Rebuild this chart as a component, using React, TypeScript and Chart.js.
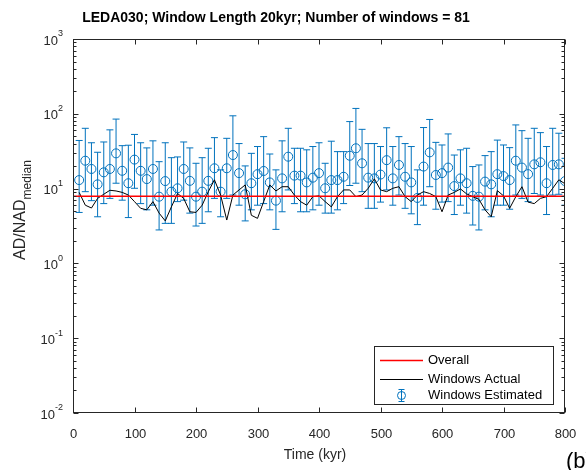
import { useEffect, useRef } from "react";
import { Chart, registerables } from "chart.js";

Chart.register(...registerables);

const TITLE = "LEDA030; Window Length 20kyr; Number of windows = 81";
const X_LABEL = "Time (kyr)";
const Y_LABEL_MAIN = "AD/NAD";
const Y_LABEL_SUB = "median";
const LEGEND_LABELS = ["Overall", "Windows Actual", "Windows Estimated"];
const PANEL_TAG = "(b)";

// Window centres (kyr)
const timeKyr = [
  10, 20, 30, 40, 50, 60, 70, 80, 90, 100,
  110, 120, 130, 140, 150, 160, 170, 180, 190, 200,
  210, 220, 230, 240, 250, 260, 270, 280, 290, 300,
  310, 320, 330, 340, 350, 360, 370, 380, 390, 400,
  410, 420, 430, 440, 450, 460, 470, 480, 490, 500,
  510, 520, 530, 540, 550, 560, 570, 580, 590, 600,
  610, 620, 630, 640, 650, 660, 670, 680, 690, 700,
  710, 720, 730, 740, 750, 760, 770, 780, 790, 800,
  810,
];

// Estimated AD/NAD per window with its error range
const estimated = [
  13.0, 23.6, 18.3, 11.4, 16.5, 18.3, 29.6, 17.3, 11.8, 24.4,
  17.3, 13.4, 18.3, 7.8, 12.6, 9.1, 10.1, 18.3, 12.7, 7.8,
  9.1, 12.7, 18.7, 9.1, 18.7, 28.1, 16.1, 8.4, 11.8, 15.6,
  17.2, 12.1, 6.9, 13.7, 26.7, 14.9, 14.9, 12.1, 14.0, 16.1,
  10.1, 13.0, 13.0, 14.4, 27.5, 34.6, 21.8, 14.0, 13.7, 15.4,
  24.0, 13.7, 20.7, 14.4, 12.1, 7.5, 19.7, 30.5, 15.2, 16.1,
  19.1, 10.8, 13.7, 11.8, 8.0, 7.8, 12.4, 11.4, 15.6, 14.7,
  13.0, 23.6, 19.1, 15.6, 21.1, 22.5, 11.8, 20.7, 21.1, 12.6,
  14.0,
];
const estimatedUpper = [
  44, 64, 41, 30.6, 42, 61, 85, 37.5, 38, 53,
  41, 35, 43.5, 22.9, 41, 25.9, 26.5, 42, 35, 21.8,
  25.9, 34.6, 48, 17.8, 47, 94, 40, 20.1, 29.6, 36.5,
  49.5, 29, 17.8, 43.5, 64, 34.6, 34.6, 33, 36.5, 41,
  21.8, 43, 31.2, 31.2, 78.7, 118, 62, 40, 40, 36.5,
  65, 36.5, 49.5, 40, 36.5, 17.8, 65.5, 84, 41.5, 38.3,
  53.8, 28.1, 33, 34.6, 19.7, 20.7, 27.6, 31.2, 44.5, 38.3,
  35.3, 71, 59.5, 47, 64, 56, 36.5, 64, 55, 25.4,
  40,
];
const estimatedLower = [
  4.8, 9.1, 6.9, 4.2, 6.3, 7.4, 11.8, 7.0, 4.1, 10.1,
  6.3, 5.2, 6.0, 2.8, 3.43, 3.43, 6.7, 7.0, 4.7, 3.16,
  3.43, 4.9, 7.4, 4.2, 7.4, 8.2, 6.0, 3.7, 5.2, 6.0,
  6.3, 5.2, 2.85, 4.9, 9.6, 6.3, 4.9, 4.9, 5.2, 6.0,
  4.7, 4.7, 5.2, 6.3, 11.0, 11.8, 9.1, 5.45, 5.45, 6.6,
  9.6, 6.0, 8.2, 5.45, 4.6, 3.3, 6.0, 10.6, 5.3, 6.6,
  6.7, 4.5, 6.0, 4.7, 3.26, 2.8, 5.2, 4.2, 6.0, 6.0,
  5.3, 8.2, 7.4, 6.7, 8.6, 8.2, 4.5, 8.2, 8.4, 6.0,
  6.0,
];

// Actual AD/NAD per window
const windowsActual = [
  8.9, 6.0, 5.5, 7.4, 8.4, 9.5, 9.3, 8.9, 8.2, 6.7,
  5.45, 5.2, 6.7, 4.7, 3.7, 5.7, 8.6, 7.4, 4.9, 4.8,
  6.0, 9.1, 13.1, 8.2, 3.8, 8.2, 9.6, 11.2, 4.4, 4.0,
  6.7, 11.2, 9.3, 10.6, 10.6, 8.2, 6.7, 6.0, 7.8, 8.0,
  6.7, 5.7, 7.8, 9.6, 9.6, 7.8, 8.2, 10.1, 13.5, 9.6,
  9.1, 10.1, 10.6, 7.8, 6.7, 8.2, 9.1, 8.6, 7.8, 4.9,
  8.2, 8.9, 9.9, 8.5, 7.8, 7.2, 5.2, 4.2, 9.4, 8.0,
  5.45, 7.8, 10.6, 6.6, 6.3, 7.4, 7.8, 10.1, 13.1, 11.6,
  12.0,
];

// Whole-record AD/NAD
const overallValue = 7.9;

const xTickValues = [0, 100, 200, 300, 400, 500, 600, 700, 800];
const yTickExponents = [-2, -1, 0, 1, 2, 3];

const FONT = '"Liberation Sans", Arial, Helvetica, sans-serif';
const AXIS_COLOR = "#262626";
const BLUE = "#0072BD";

const matlabFrame = {
  id: "matlabFrame",
  beforeDatasetsDraw(chart: any) {
    const { ctx, chartArea: a, scales } = chart;
    const xs = scales.x;
    const ys = scales.y;
    ctx.save();
    ctx.beginPath();
    ctx.rect(a.left, a.top, a.right - a.left, a.bottom - a.top);
    ctx.clip();
    ctx.strokeStyle = BLUE;
    ctx.lineWidth = 1;
    const cap = 3.5;
    for (let i = 0; i < timeKyr.length; i++) {
      const px = xs.getPixelForValue(timeKyr[i]);
      const yl = ys.getPixelForValue(estimatedLower[i]);
      const yu = ys.getPixelForValue(estimatedUpper[i]);
      ctx.beginPath();
      ctx.moveTo(px, yl);
      ctx.lineTo(px, yu);
      ctx.moveTo(px - cap, yl);
      ctx.lineTo(px + cap, yl);
      ctx.moveTo(px - cap, yu);
      ctx.lineTo(px + cap, yu);
      ctx.stroke();
    }
    ctx.restore();
  },
  afterDraw(chart: any) {
    const { ctx, chartArea: a, scales } = chart;
    const xs = scales.x;
    const ys = scales.y;
    const L = Math.round(a.left) + 0.5;
    const R = Math.round(a.right) - 0.5;
    const T = Math.round(a.top) + 0.5;
    const B = Math.round(a.bottom) - 0.5;

    ctx.save();
    // axes box
    ctx.strokeStyle = AXIS_COLOR;
    ctx.lineWidth = 1;
    ctx.strokeRect(L, T, R - L, B - T);

    // x ticks and labels
    ctx.fillStyle = AXIS_COLOR;
    ctx.font = `13px ${FONT}`;
    ctx.textAlign = "center";
    ctx.textBaseline = "middle";
    for (const v of xTickValues) {
      const px = Math.round(xs.getPixelForValue(v)) + 0.5;
      ctx.beginPath();
      ctx.moveTo(px, B);
      ctx.lineTo(px, B - 5);
      ctx.moveTo(px, T);
      ctx.lineTo(px, T + 5);
      ctx.stroke();
      ctx.fillText(String(v), px, B + 22);
    }

    // y major ticks, minor ticks and labels
    for (let e = yTickExponents[0]; e <= yTickExponents[yTickExponents.length - 1]; e++) {
      const py = Math.round(ys.getPixelForValue(Math.pow(10, e))) + 0.5;
      ctx.beginPath();
      ctx.moveTo(L, py);
      ctx.lineTo(L + 5, py);
      ctx.moveTo(R, py);
      ctx.lineTo(R - 5, py);
      ctx.stroke();
      if (e < yTickExponents[yTickExponents.length - 1]) {
        for (let m = 2; m <= 9; m++) {
          const my = Math.round(ys.getPixelForValue(m * Math.pow(10, e))) + 0.5;
          ctx.beginPath();
          ctx.moveTo(L, my);
          ctx.lineTo(L + 3, my);
          ctx.moveTo(R, my);
          ctx.lineTo(R - 3, my);
          ctx.stroke();
        }
      }
    }
    for (const e of yTickExponents) {
      const py = ys.getPixelForValue(Math.pow(10, e));
      const expText = String(e);
      ctx.font = `9px ${FONT}`;
      const ew = ctx.measureText(expText).width;
      const right = a.left - 10;
      ctx.textAlign = "left";
      ctx.textBaseline = "middle";
      ctx.fillText(expText, right - ew, py - 5);
      ctx.font = `13px ${FONT}`;
      ctx.textAlign = "right";
      ctx.fillText("10", right - ew, py + 2);
    }

    // title
    ctx.fillStyle = "#000000";
    ctx.font = `bold 14px ${FONT}`;
    ctx.textAlign = "center";
    ctx.textBaseline = "middle";
    ctx.fillText(TITLE, 276, 18);

    // x label
    ctx.fillStyle = AXIS_COLOR;
    ctx.font = `14px ${FONT}`;
    ctx.fillText(X_LABEL, 315, 455);

    // y label with subscript
    ctx.save();
    ctx.font = `16px ${FONT}`;
    const mw = ctx.measureText(Y_LABEL_MAIN).width;
    ctx.font = `12px ${FONT}`;
    const sw = ctx.measureText(Y_LABEL_SUB).width;
    const total = mw + sw;
    const cy = 210;
    ctx.translate(21, cy + total / 2);
    ctx.rotate(-Math.PI / 2);
    ctx.textAlign = "left";
    ctx.textBaseline = "middle";
    ctx.font = `16px ${FONT}`;
    ctx.fillText(Y_LABEL_MAIN, 0, 0);
    ctx.font = `12px ${FONT}`;
    ctx.fillText(Y_LABEL_SUB, mw, 7);
    ctx.restore();

    // legend
    const lx = 374.5, ly = 346.5, lw = 179, lh = 58;
    ctx.fillStyle = "#ffffff";
    ctx.fillRect(lx, ly, lw, lh);
    ctx.strokeStyle = AXIS_COLOR;
    ctx.lineWidth = 1;
    ctx.strokeRect(lx, ly, lw, lh);
    const rows = [360.5, 379.5, 395.5];
    ctx.lineWidth = 1.5;
    ctx.strokeStyle = "#FF0000";
    ctx.beginPath();
    ctx.moveTo(380, rows[0]);
    ctx.lineTo(423, rows[0]);
    ctx.stroke();
    ctx.lineWidth = 1;
    ctx.strokeStyle = "#000000";
    ctx.beginPath();
    ctx.moveTo(380, rows[1]);
    ctx.lineTo(423, rows[1]);
    ctx.stroke();
    ctx.strokeStyle = BLUE;
    const ix = 401.5;
    ctx.beginPath();
    ctx.moveTo(ix, rows[2] - 6);
    ctx.lineTo(ix, rows[2] + 6);
    ctx.moveTo(ix - 3, rows[2] - 6);
    ctx.lineTo(ix + 3, rows[2] - 6);
    ctx.moveTo(ix - 3, rows[2] + 6);
    ctx.lineTo(ix + 3, rows[2] + 6);
    ctx.stroke();
    ctx.beginPath();
    ctx.arc(ix, rows[2], 4, 0, Math.PI * 2);
    ctx.stroke();
    ctx.fillStyle = "#000000";
    ctx.font = `13px ${FONT}`;
    ctx.textAlign = "left";
    ctx.textBaseline = "middle";
    LEGEND_LABELS.forEach((t, k) => ctx.fillText(t, 428, rows[k]));

    // panel tag
    ctx.font = `22px ${FONT}`;
    ctx.textBaseline = "alphabetic";
    ctx.fillText(PANEL_TAG, 566, 468);
    ctx.restore();
  },
};

export default function App() {
  const canvasRef = useRef<HTMLCanvasElement | null>(null);

  useEffect(() => {
    document.body.style.margin = "0";
    const canvas = canvasRef.current;
    if (!canvas) return;
    const chart = new Chart(canvas, {
      type: "scatter",
      data: {
        datasets: [
          {
            label: LEGEND_LABELS[0],
            type: "line",
            data: [
              { x: 0, y: overallValue },
              { x: 800, y: overallValue },
            ],
            borderColor: "#FF0000",
            borderWidth: 1.5,
            pointRadius: 0,
            fill: false,
            order: 0,
            clip: 0,
          },
          {
            label: LEGEND_LABELS[1],
            type: "line",
            data: timeKyr.map((t, i) => ({ x: t, y: windowsActual[i] })),
            borderColor: "#000000",
            borderWidth: 1,
            pointRadius: 0,
            tension: 0,
            fill: false,
            order: 1,
            clip: 0,
          },
          {
            label: LEGEND_LABELS[2],
            data: timeKyr.map((t, i) => ({ x: t, y: estimated[i] })),
            showLine: false,
            pointStyle: "circle",
            pointRadius: 4.5,
            pointBorderWidth: 1,
            pointBorderColor: BLUE,
            pointBackgroundColor: "rgba(0,0,0,0)",
            order: 2,
            clip: 0,
          },
        ],
      } as any,
      options: {
        responsive: false,
        maintainAspectRatio: false,
        devicePixelRatio: 1,
        animation: false,
        layout: { padding: { left: 73, right: 21, top: 39, bottom: 57 } },
        scales: {
          x: { type: "linear", min: 0, max: 800, display: false },
          y: { type: "logarithmic", min: 0.01, max: 1000, display: false },
        },
        plugins: {
          legend: { display: false },
          tooltip: { enabled: false },
          title: { display: false },
        },
      },
      plugins: [matlabFrame],
    });
    return () => chart.destroy();
  }, []);

  return (
    <div style={{ width: 586, height: 470, background: "#ffffff" }}>
      <canvas ref={canvasRef} width={586} height={470} style={{ display: "block" }} />
    </div>
  );
}
